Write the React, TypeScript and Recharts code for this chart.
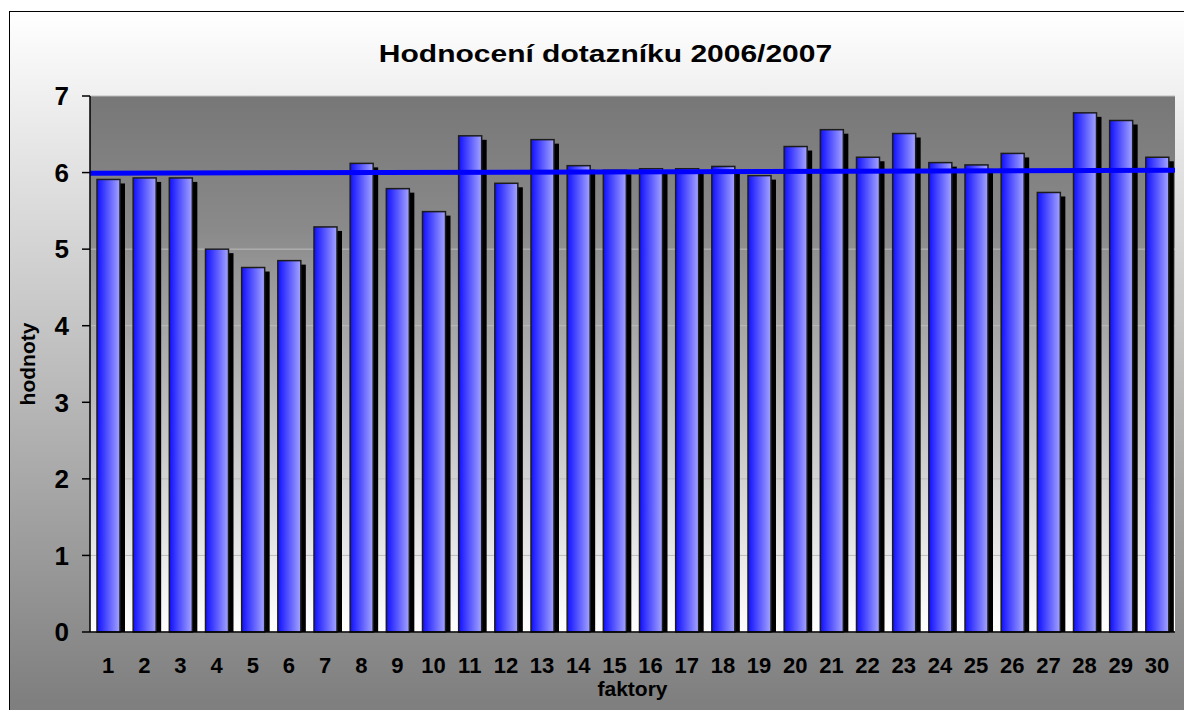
import React from 'react';
import {
  ComposedChart,
  Bar,
  XAxis,
  YAxis,
  CartesianGrid,
  ReferenceLine,
  Customized,
} from 'recharts';

const factors = ['1', '2', '3', '4', '5', '6', '7', '8', '9', '10', '11', '12', '13', '14', '15', '16', '17', '18', '19', '20', '21', '22', '23', '24', '25', '26', '27', '28', '29', '30'];
const ratings = [5.91, 5.93, 5.93, 5.0, 4.76, 4.85, 5.29, 6.12, 5.79, 5.49, 6.48, 5.86, 6.43, 6.09, 6.03, 6.05, 6.05, 6.08, 5.96, 6.34, 6.56, 6.2, 6.51, 6.13, 6.1, 6.25, 5.74, 6.78, 6.68, 6.2];
const yTicks = [0, 1, 2, 3, 4, 5, 6, 7];
const edgeTicks = [0, 1, 2, 3, 4, 5, 6, 7, 8, 9, 10, 11, 12, 13, 14, 15, 16, 17, 18, 19, 20, 21, 22, 23, 24, 25, 26, 27, 28, 29, 30];
const levelLine = [
  { x: 0, y: 5.99 },
  { x: 30, y: 6.03 },
];
const title = 'Hodnocení dotazníku 2006/2007';
const xTitle = 'faktory';
const yTitle = 'hodnoty';

const data = factors.map((f, i) => ({ name: f, value: ratings[i] }));

const FONT = '"Liberation Sans", Arial, sans-serif';

const ShadowBar = (props: any) => {
  const { x, y, width, height } = props;
  if (!height || height <= 0) return null;
  return (
    <g>
      <rect x={x + 5} y={y + 4} width={width} height={Math.max(0, height - 4)} fill="#000000" />
      <rect x={x} y={y} width={width} height={height} fill="url(#barGrad)" stroke="#1c1c1c" strokeWidth={1.5} />
    </g>
  );
};

const Title = () => (
  <text
    transform="translate(605.5,62) scale(1.25,1)"
    x={0}
    y={0}
    textAnchor="middle"
    fontFamily={FONT}
    fontWeight="bold"
    fontSize={24}
    fill="#000"
  >
    {title}
  </text>
);

export default function App() {
  return (
    <div style={{ position: 'absolute', left: 0, top: 0, width: 1184, height: 710, overflow: 'hidden' }}>
      <div
        style={{
          position: 'absolute',
          left: 9,
          top: 11,
          width: 1190,
          height: 710,
          border: '1px solid #000',
          background: 'linear-gradient(to bottom, #ffffff 0px, #7f7f7f 690px)',
        }}
      />
      <div style={{ position: 'absolute', left: 0, top: 0 }}>
        <ComposedChart
          width={1184}
          height={710}
          data={data}
          margin={{ top: 96, right: 9, bottom: 8, left: 20 }}
          style={{ fontFamily: FONT }}
        >
          <defs>
            <linearGradient id="barGrad" x1="0" y1="0" x2="1" y2="0">
              <stop offset="0%" stopColor="#1010ff" />
              <stop offset="100%" stopColor="#a4a4ff" />
            </linearGradient>
            <linearGradient id="plotBg" x1="0" y1="0" x2="0" y2="1">
              <stop offset="0%" stopColor="#777777" />
              <stop offset="25%" stopColor="#8a8a8a" />
              <stop offset="100%" stopColor="#ffffff" />
            </linearGradient>
          </defs>
          <CartesianGrid
            xAxisId="c"
            yAxisId="l"
            vertical={false}
            horizontal={true}
            stroke="#bcbcbc"
            fill="url(#plotBg)"
            fillOpacity={1}
          />
          <XAxis
            xAxisId="e"
            type="number"
            dataKey="idx"
            domain={[0, 30]}
            ticks={edgeTicks}
            allowDataOverflow
            height={0}
            axisLine={false}
            tick={false}
            tickLine={{ stroke: '#000', strokeWidth: 1.5 }}
            tickSize={7}
          />
          <XAxis
            xAxisId="c"
            type="category"
            dataKey="name"
            height={70}
            interval={0}
            axisLine={{ stroke: '#000', strokeWidth: 1.5 }}
            tickLine={false}
            tickSize={0}
            tickMargin={25}
            tick={{ fill: '#000', fontSize: 22, fontWeight: 'bold', fontFamily: FONT }}
            label={{
              value: xTitle,
              position: 'insideBottom',
              offset: 6,
              style: { fill: '#000', fontSize: 21, fontWeight: 'bold', fontFamily: FONT },
            }}
          />
          <XAxis
            xAxisId="t"
            orientation="top"
            type="number"
            domain={[0, 1]}
            height={0}
            axisLine={{ stroke: '#c4c4c4', strokeWidth: 1.5 }}
            tick={false}
            tickLine={false}
          />
          <YAxis
            yAxisId="l"
            type="number"
            domain={[0, 7]}
            ticks={yTicks}
            width={70}
            axisLine={{ stroke: '#000', strokeWidth: 1.5 }}
            tickLine={{ stroke: '#000', strokeWidth: 1.5 }}
            tickSize={8}
            tickMargin={13}
            tick={{ fill: '#000', fontSize: 26, fontWeight: 'bold', fontFamily: FONT }}
            label={{
              value: yTitle,
              angle: -90,
              position: 'insideLeft',
              offset: 8,
              style: { fill: '#000', fontSize: 21, fontWeight: 'bold', fontFamily: FONT, textAnchor: 'middle' },
            }}
          />
          <YAxis
            yAxisId="r"
            orientation="right"
            type="number"
            domain={[0, 1]}
            width={0}
            axisLine={{ stroke: '#c4c4c4', strokeWidth: 1.5 }}
            tick={false}
            tickLine={false}
          />
          <Bar
            xAxisId="c"
            yAxisId="l"
            dataKey="value"
            barSize={23}
            shape={ShadowBar}
            isAnimationActive={false}
          />
          <ReferenceLine
            xAxisId="e"
            yAxisId="l"
            segment={levelLine}
            stroke="#0000ff"
            strokeWidth={5}
            ifOverflow="extendDomain"
          />
          <Customized component={Title} />
        </ComposedChart>
      </div>
    </div>
  );
}
